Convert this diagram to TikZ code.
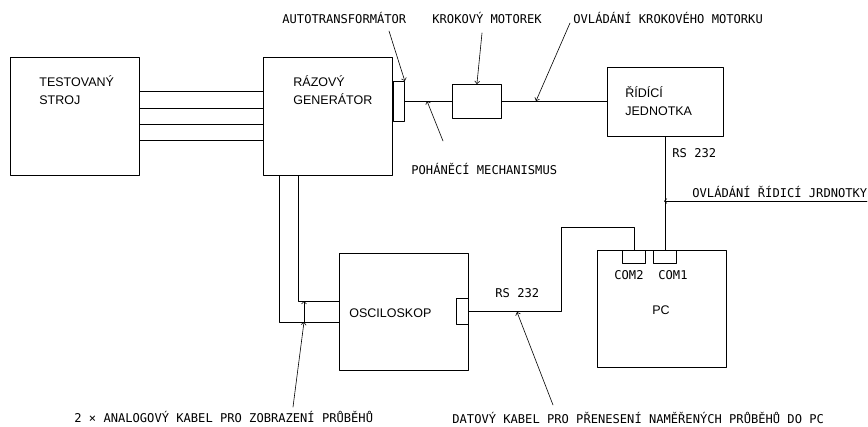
\documentclass[tikz,border=0pt]{standalone}
\usepackage{fontspec}
\setmainfont{Liberation Sans}
\newfontfamily\cadfont{DejaVu Sans Mono}
\usetikzlibrary{arrows.meta}
\tikzset{
  every picture/.style={line join=round, line cap=round, >=Stealth},
  box/.style={draw, line width=0.8pt, inner sep=0pt, anchor=north west},
  boxtext/.style={font=\fontsize{12.5}{17.5}\selectfont, align=left, inner sep=0pt, anchor=base west},
  cad/.style={font=\cadfont\fontsize{12.1}{14}\selectfont, inner sep=0pt, anchor=base west},
  lead/.style={-{Straight Barb[length=2.5pt,width=5pt]}, line width=0.6pt},
}

\begin{document}
\begin{tikzpicture}[x=1pt,y=-1pt,line width=0.8pt]
\useasboundingbox (0,0) rectangle (868,426);
% blocks
\node[box, minimum width=129pt, minimum height=118pt] (stroj) at (10,57) {};
\node[box, minimum width=129pt, minimum height=118pt] (gen) at (263,57) {};
\node[box, minimum width=11pt, minimum height=40pt] (autotr) at (393,81) {};
\node[box, minimum width=49pt, minimum height=34pt] (motor) at (452,84) {};
\node[box, minimum width=116pt, minimum height=69pt] (ridici) at (607,67) {};
\node[box, minimum width=129pt, minimum height=117pt] (osc) at (339,253) {};
\node[box, minimum width=12pt, minimum height=26pt] (oscport) at (456,298) {};
\node[box, minimum width=129pt, minimum height=117pt] (pc) at (597,250) {};
\node[box, minimum width=23pt, minimum height=13pt] (com2) at (622,250) {};
\node[box, minimum width=23pt, minimum height=13pt] (com1) at (653,250) {};
% block texts (base = last line)
\node[boxtext] (strojtxt) at (39,104) {TESTOVANÝ\\STROJ};
\node[boxtext] (gentxt) at (293,104) {RÁZOVÝ\\GENERÁTOR};
\node[boxtext] (riditxt) at (625,115) {ŘÍDÍCÍ\\JEDNOTKA};
\node[boxtext] (osctxt) at (349,317) {OSCILOSKOP};
\node[boxtext] (pctxt) at (652,314) {PC};
\node[cad] (com2txt) at (614,279.5) {COM2};
\node[cad] (com1txt) at (658,279.5) {COM1};
% cables
\foreach \y in {91,108,124,140}
  \draw (stroj.east |- 0,\y) -- (gen.west |- 0,\y);
\draw (autotr.east) -- (motor.west);
\draw (motor.east) -- (ridici.west |- motor.east);
\draw (gen.south -| 279,0) |- (osc.west |- 0,322);
\draw (gen.south -| 298,0) |- (osc.west |- 0,301);
\coordinate (bend) at (561,227);
\draw (oscport.east) -| (bend) -| (com2.north);
\draw (com1.north |- ridici.south) -- (com1.north);
% labels
\node[cad] (lautotr) at (282,23.5) {AUTOTRANSFORMÁTOR};
\node[cad] (lmotor) at (432,23.5) {KROKOVÝ MOTOREK};
\node[cad] (lkrok) at (573,23.5) {OVLÁDÁNÍ KROKOVÉHO MOTORKU};
\node[cad] (lpohon) at (411,174.5) {POHÁNĚCÍ MECHANISMUS};
\node[cad] (lrs1) at (672,157.5) {RS 232};
\node[cad] (lridici) at (692,197.5) {OVLÁDÁNÍ ŘÍDICÍ JRDNOTKY};
\node[cad] (lrs2) at (495,297.5) {RS 232};
\node[cad] (lanalog) at (74,422.5) {2 × ANALOGOVÝ KABEL PRO ZOBRAZENÍ PRŮBĚHŮ};
\node[cad] (ldata) at (452,423) {DATOVÝ KABEL PRO PŘENESENÍ NAMĚŘENÝCH PRŮBĚHŮ DO PC};
% leaders
\coordinate (a1) at (389,31);
\coordinate (m1) at (482,33);
\coordinate (k1) at (570,23);
\coordinate (k2) at (536,101);
\coordinate (p1) at (443,141);
\coordinate (p2) at (427,101);
\coordinate (r1) at (867,201);
\coordinate (r2) at (664,201);
\coordinate (an1) at (293,407);
\coordinate (an2) at (304,322);
\coordinate (an3) at (304,301);
\coordinate (d1) at (553,405);
\coordinate (d2) at (517,312);
\draw[lead] (a1) -- (autotr.north east);
\draw[lead] (m1) -- (motor.north);
\draw[lead] (k1) -- (k2);
\draw[lead] (p1) -- (p2);
\draw[lead] (r1) -- (r2);
\draw[lead] (an1) -- (an2);
\draw[lead] (an2) -- (an3);
\draw[lead] (d1) -- (d2);
\end{tikzpicture}
\end{document}
